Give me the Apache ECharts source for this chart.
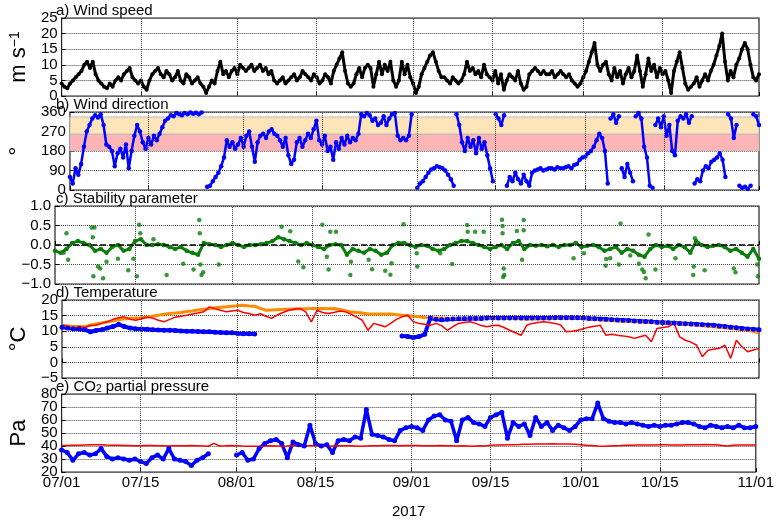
<!DOCTYPE html>
<html>
<head>
<meta charset="utf-8">
<script src="https://cdn.jsdelivr.net/npm/echarts@6/dist/echarts.min.js"></script>
<style>
html, body { margin: 0; padding: 0; background: #fff; }
#chart { width: 777px; height: 522px; }
</style>
</head>
<body>
<div id="chart"></div>
<script>
// x positions are days since 2017-07-01
const tickDays = [0, 14, 31, 45, 62, 76, 92, 106, 123]
const tickLabels = ['07/01', '07/15', '08/01', '08/15', '09/01', '09/15', '10/01', '10/15', '11/01']

// y tick values for each panel
const speedTicks = [0, 5, 10, 15, 20, 25]
const dirTicks = [0, 90, 180, 270, 360]
const stabTicks = [-1, -0.5, 0, 0.5, 1]
const tempTicks = [-5, 0, 5, 10, 15, 20]
const co2Ticks = [20, 30, 40, 50, 60, 70, 80]

// a) wind speed, m/s, every half day
const windSpeed = [
  4, 3, 2.5, 4, 5, 6, 7, 8, 10, 11, 9, 11, 7, 5, 4, 3, 2.5, 4, 3, 5,
  6, 5, 7, 8, 9, 6, 5, 4, 5, 3, 2, 5, 7, 8, 9, 7, 6, 8, 7, 5,
  6, 8, 5, 4, 7, 6, 4, 5, 6, 4, 3, 1, 3, 5, 4, 8, 11, 7, 8, 6,
  8, 9, 7, 10, 9, 8, 9, 10, 8, 9, 10, 8, 9, 7, 8, 5, 4, 5, 6, 4,
  5, 6, 7, 5, 6, 8, 7, 6, 5, 7, 6, 4, 5, 7, 6, 4, 8, 10, 12, 14,
  8, 4, 3, 4, 7, 9, 6, 9, 10, 9, 3, 7, 11, 7, 10, 8, 11, 5, 3, 5,
  11, 7, 10, 6, 4, 1, 3, 7, 9, 11, 13, 14, 11, 8, 6, 6, 5, 4, 6, 5,
  4, 5, 7, 11, 8, 9, 7, 8, 6, 10, 7, 6, 5, 8, 4, 7, 2, 5, 7, 6,
  5, 8, 4, 2, 3, 7, 8, 9, 8, 7, 8, 7, 7, 8, 6, 7, 8, 7, 6, 7,
  5, 4, 3, 4, 6, 8, 11, 14, 17, 10, 8, 10, 11, 7, 5, 9, 6, 8, 4, 7,
  9, 6, 8, 13, 8, 3, 7, 12, 8, 10, 6, 9, 7, 8, 5, 1, 8, 11, 14, 9,
  4, 2, 3, 4, 6, 3, 5, 7, 5, 8, 10, 13, 16, 20, 11, 5, 8, 6, 10, 12,
  15, 17, 15, 10, 6, 5, 7
]

// b) wind direction, degrees, every half day
const windDir = [
  60, 30, 100, 70, 120, 200, 270, 300, 330, 345, 335, 350, 300, 210, 200, 180, 110, 170, 190, 150,
  210, 100, 180, 250, 300, 270, 220, 190, 240, 210, 250, 230, 260, 290, 320, 330, 345, 340, 355, 350,
  345, 355, 350, 358, 352, 356, 350, 358, null, 15, 20, 40, 60, 80, 110, 150, 230, 200, 220, 190,
  210, 240, 200, 250, 270, 200, 130, 220, 250, 260, 240, 270, 280, 260, 250, 230, 200, 240, 160, 120,
  140, 220, 240, 200, 230, 260, 240, 280, 320, 230, 210, 250, 180, 200, 140, 220, 190, 240, 210, 250,
  220, 240, 230, 260, 350, 340, 355, 345, 320, 330, 300, 310, 340, 300, 330, 350, 355, 250, 230, 240,
  230, 250, 350, null, 10, 30, 40, 60, 80, 95, 100, 110, 105, 100, 90, 70, 50, 20, 350, 300,
  220, 180, 240, 200, 230, 170, 240, 190, 220, 160, 100, 40, 350, 330, 300, 345, 20, 60, 40, 80,
  50, 30, 70, 40, 20, 80, 90, 95, 100, 90, 95, 100, 100, 95, 105, 100, 100, 105, 110, 100,
  115, 120, 140, 150, 155, 170, 180, 200, 230, 260, 240, 180, 30, 330, 350, 310, 340, 100, 60, 120,
  80, 40, 340, 355, 330, 200, 150, 20, 10, 300, 330, 290, 340, 250, 300, 180, 160, 320, 340, 330,
  350, 310, 340, 30, 50, 40, 90, 110, 100, 130, 140, 150, 170, 140, 60, 350, 330, 240, 300, 20,
  10, 15, 5, 20, 350, 340, 300
]
const dirBands = [[180, 258], [258, 337]]

// c) stability parameter, daily, plus scattered outliers
const stability = [
  -0.15, -0.2, -0.1, 0.05, 0.1, 0.05, 0.0, -0.15, -0.1, -0.2,
  -0.05, 0.0, -0.15, -0.1, 0.1, 0.15, 0.0, 0.0, 0.02, 0.0,
  -0.05, -0.1, -0.05, -0.15, -0.2, -0.25, 0.05, 0.02, 0.0, -0.05,
  0.0, 0.05, 0.0, -0.05, 0.0, 0.0, 0.02, 0.05, 0.1, 0.2,
  0.15, 0.1, 0.05, 0.0, 0.05, 0.0, -0.05, -0.1, 0.0, 0.02,
  0.0, -0.25, -0.1, -0.15, -0.2, -0.1, -0.15, -0.25, -0.2, 0.0,
  0.05, 0.05, 0.0, -0.05, 0.0, -0.02, -0.1, -0.15, -0.1, 0.0,
  0.05, 0.1, 0.1, 0.05, 0.0, -0.05, -0.1, -0.05, 0.0, -0.1,
  0.05, 0.1, -0.1, 0.0, -0.02, 0.0, -0.03, 0.0, -0.05, 0.0,
  0.0, 0.05, -0.05, -0.02, 0.0, -0.05, -0.15, -0.1, -0.05, -0.2,
  -0.1, -0.15, -0.25, -0.3, -0.1, 0.0, -0.05, -0.02, -0.1, 0.0,
  -0.05, -0.2, 0.1, 0.0, -0.05, -0.02, 0.0, -0.05, -0.15, -0.1,
  -0.2, -0.3, -0.1, -0.35
]
const stabOutDays = [2, 2.3, 1.5, 6.4, 6.9, 6.6, 6.7, 7.9, 8.4, 7.5, 9, 11, 12.8, 13.7, 14.3, 14.7, 14.9, 17.2, 19.5, 22.4,
  24.2, 25.2, 25.3, 25.4, 25.6, 25.9, 28.6, 39.6, 41.1, 42.5, 43.4, 46.7, 47.5, 47.8, 48.1, 49.1, 51.6, 51.7, 54.8, 55.4,
  57.7, 58.6, 58.8, 60.9, 63.2, 63.3, 67.3, 69.4, 72, 72.1, 73.4, 74.9, 78.1, 78.2, 78.2, 78.4, 78.5, 78.3, 80.7, 81.9,
  81.9, 81.6, 90.6, 92.4, 96.2, 96.3, 97, 98.5, 98.8, 100.5, 102, 102.6, 102.9, 103.2, 103.7, 104.9, 108.4, 111.5, 111.6, 111.8,
  113.5, 118.6, 118.9, 122.8, 122.7]
const stabOutVals = [0.3, -0.38, -0.2, 0.45, 0.45, 0.2, -0.8, -0.6, -0.85, -0.55, -0.43, -0.35, -0.65, -0.35, -0.8, 0.52, 0.3, 0.15, -0.77, -0.48,
  -0.63, 0.64, 0.3, -0.5, -0.77, -0.7, -0.5, 0.47, 0.35, -0.42, -0.57, 0.52, -0.3, -0.63, 0.34, 0.34, -0.77, -0.43, -0.38, -0.62,
  -0.66, -0.76, -0.47, 0.53, -0.21, -0.55, -0.21, -0.49, 0.51, 0.34, 0.34, 0.34, 0.65, 0.49, 0.3, -0.6, -0.77, -0.82, 0.36, 0.64,
  0.38, -0.38, -0.34, -0.21, -0.53, -0.36, -0.34, -0.5, 0.55, -0.27, -0.48, -0.63, -0.69, -0.85, 0.27, -0.63, -0.34, -0.77, -0.55, 0.17,
  -0.65, -0.6, -0.7, -0.8, -0.5]

// d) temperature, degC, daily
const tempBlue = [
  11.3, 11, 10.8, 10.7, 10.5, 9.8, 10.2, 10.5, 11, 11.5,
  12.2, 11.5, 11, 10.8, 10.7, 10.6, 10.5, 10.4, 10.3, 10.3,
  10.2, 10.1, 10, 10, 9.9, 9.8, 9.8, 9.7, 9.6, 9.5,
  9.5, 9.3, 9.2, 9.2, 9.1, null, null, null, null, null,
  null, null, null, null, null, null, null, null, null, null,
  null, null, null, null, null, null, null, null, null, null,
  8.5, 8.3, 8, 8.3, 9, 14.2, 13.8, 13.7, 13.8, 13.9,
  14, 14, 14.1, 14.1, 14.1, 14.2, 14.2, 14.2, 14.2, 14.2,
  14.2, 14.2, 14.2, 14.2, 14.2, 14.2, 14.2, 14.3, 14.3, 14.3,
  14.3, 14.3, 14.2, 14.1, 14, 13.9, 13.8, 13.7, 13.6, 13.5,
  13.4, 13.3, 13.2, 13.1, 13, 12.9, 12.8, 12.7, 12.6, 12.5,
  12.4, 12.3, 12.2, 12.1, 12, 11.9, 11.7, 11.5, 11.3, 11.1,
  10.9, 10.7, 10.6, 10.5
]
const tempOrange = [
  11.9, 11.7, 11.5, 11.5, 11.4, 12, 12.3, 12.6, 13, 13.3,
  13.7, 14, 14.1, 14.2, 14.3, 14.6, 14.8, 15.1, 15.4, 15.7,
  15.8, 16, 16.3, 16.5, 16.8, 17, 17.2, 17.5, 17.7, 17.8,
  18, 18.2, 18.3, 18.1, 18, 17.3, 16.7, 16.8, 16.9, 17,
  17, 17.1, 17.2, 17.2, 17.3, 17.3, 17.3, 17.2, 17.3, 17,
  16.6, 16.2, 16, 15.8, 15.5, 15.5, 15.5, 15.5, 15.5, 15.3,
  15.1, 15, 14.8, 14.6, 14.4, 14.3, 14.2, 14.2, 14.1, 14.1,
  14.1, 14.1, 14.1, 14.1, 14.1, 14.1, 14.1, 14.1, 14.1, 14.1,
  14.1, 14, 13.8, 13.9, 14, 14, 14.1, 14.1, 14.1, 14.1,
  14.2, 14.2, 14.2, 14, 13.8, 13.6, 13.5, 13.4, 13.3, 13.2,
  13.1, 13.1, 13, 12.9, 12.8, 12.8, 12.7, 12.6, 12.5, 12.4,
  12.2, 12.1, 12, 11.8, 11.6, 11.4, 11.2, 11.1, 10.9, 10.7,
  10.5, 10.3, 10, 9.5
]
const tempRed = [
  12, 11.5, 10.9, 11.5, 11.2, 11.8, 11.9, 12.5, 13, 13.8,
  14.3, 14.6, 13.8, 13.5, 14, 14.5, 14.2, 13.5, 13, 13.8,
  14.5, 14.8, 15.1, 15.5, 15.8, 16.2, 17.8, 17.2, 16.7, 16.2,
  16.5, 16.7, 16, 15.7, 15.1, 15.6, 14.8, 14.1, 15.2, 16,
  16.7, 17, 17.3, 16.2, 13, 16.7, 16, 15.7, 16, 16.5,
  16.2, 15.5, 14.5, 13.5, 10.3, 12.5, 12, 11.4, 12.5, 13.8,
  14.6, 15.1, 13, 12.5, 12.2, 11.9, 12.5, 11.8, 10.3, 11.5,
  12.5, 12.8, 13, 12.5, 11.8, 11.4, 11.8, 11.9, 11.2, 10.3,
  9.5, 8.7, 11.9, 12.5, 12.8, 13, 12.8, 12.5, 12, 9.8,
  10, 10.3, 10.8, 11.3, 11.6, 11.9, 8.7, 9, 8.7, 8.5,
  8.2, 7.7, 8.2, 8.7, 6.6, 10.9, 11.2, 11.4, 12.5, 8.2,
  7.1, 6.5, 5.5, 1.8, 3.9, 4.2, 4.5, 5.5, 1.3, 7.1,
  5, 3.4, 4, 4.5
]

// e) CO2 partial pressure, Pa, daily
const co2Blue = [
  37, 35, 29, 34, 35, 33, 34, 38, 32, 30,
  31, 30, 29, 30, 28, 26.5, 31, 33, 30, 38,
  30, 29, 28, 25, 29, 31, 34, null, null, null,
  null, 33, 35, 29, 30, 38, 42, 44, 45, 42,
  31, 43, 41, 40, 56, 42, 40, 41, 35, 44,
  45, 44, 47, 46, 68, 49, 48, 47, 45, 44,
  52, 54, 55, 54, 52, 60, 63, 64, 60, 59,
  44, 60, 62, 58, 57, 55, 62, 64, 66, 46,
  58, 55, 57, 48, 62, 55, 58, 52, 56, 54,
  52, 55, 60, 61, 61, 73, 61, 59, 58, 58,
  57, 58, 57, 56, 55, 56, 55, 56, 56, 57,
  58, 58, 57, 55, 54, 56, 55, 54, 55, 54,
  56, 54, 54, 55
]
const co2Red = [
  40.3, 40.4, 40.5, 40.6, 40.8, 41, 41, 40.9, 40.7, 40.6,
  40.5, 40.4, 40.3, 40.2, 40.2, 40.3, 40.3, 40.2, 40.1, 40.0,
  40.1, 40.2, 40.2, 40.3, 40.2, 40.0, 39.8, 42, 40.0, 40.1,
  40.3, 40.2, 40.0, 39.9, 39.8, 39.9, 40.0, 40.1, 40.0, 39.9,
  40.0, 40.2, 40.1, 40.0, 40.3, 40.1, 40.0, 39.9, 40.0, 40.1,
  40.2, 40.1, 40.0, 39.9, 40.0, 40.1, 40.2, 40.3, 40.4, 40.3,
  40.2, 40.3, 40.4, 40.3, 40.2, 40.1, 40.2, 40.3, 40.2, 40.1,
  40.0, 40.1, 40.0, 39.9, 40.2, 40.0, 40.5, 40.7, 40.8, 41.0,
  41.0, 41.1, 41.3, 41.4, 41.5, 41.6, 41.6, 41.7, 41.6, 41.5,
  41.5, 41.4, 41.0, 40.6, 40.3, 40.0, 39.8, 40.0, 40.2, 40.3,
  40.5, 40.6, 40.7, 40.8, 40.8, 40.7, 40.9, 41.0, 40.8, 40.7,
  40.8, 40.9, 41.0, 41.0, 41.1, 41.0, 40.9, 40.3, 40.0, 40.6,
  40.7, 40.8, 40.8, 40.7
]

const chart = echarts.init(document.getElementById('chart'))

const FONT = 'Liberation Sans'
const gridTops = [18, 112, 206, 300, 394]
const halfDay = (arr) => arr.map((v, i) => [i * 0.5, v == null ? '-' : v])
const daily = (arr) => arr.map((v, i) => [i, v == null ? '-' : v])

// break the direction trace where it wraps across 0/360
const wrapBreak = (arr) => {
  const out = []
  arr.forEach((v, i) => {
    const prev = arr[i - 1]
    if (v != null && prev != null && Math.abs(v - prev) > 180) out.push([i * 0.5 - 0.25, '-'])
    out.push([i * 0.5, v == null ? '-' : v])
  })
  return out
}

// vertical grid lines on the date ticks
const vGrid = tickDays.slice(1, -1).map(d => ({ xAxis: d }))
const gridMarks = (extra) => ({
  silent: true,
  symbol: 'none',
  label: { show: false },
  lineStyle: { type: 'dotted', color: '#444', width: 1 },
  data: vGrid.concat(extra || [])
})

const xAxisFor = (i) => ({
  type: 'value',
  gridIndex: i,
  min: 0,
  max: 123,
  axisLine: { show: false },
  axisTick: { show: true, inside: true, length: 4, customValues: tickDays, lineStyle: { color: '#000' } },
  axisLabel: {
    show: i === 4,
    customValues: tickDays,
    margin: 3,
    color: '#000',
    fontFamily: FONT,
    fontSize: 15,
    hideOverlap: false,
    formatter: (v) => tickLabels[tickDays.indexOf(v)]
  },
  splitLine: { show: false },
  name: i === 4 ? '2017' : '',
  nameLocation: 'middle',
  nameGap: 32,
  nameTextStyle: { color: '#000', fontFamily: FONT, fontSize: 15 }
})

// labelTicks lets a dense panel split its labels over two overlaid axes
const yAxisFor = (i, ticks, name, fmt, labelTicks) => ({
  type: 'value',
  gridIndex: i,
  position: 'left',
  offset: 0,
  min: ticks[0],
  max: ticks[ticks.length - 1],
  interval: ticks[1] - ticks[0],
  axisLine: { show: false },
  axisTick: { show: true, inside: true, length: 4, customValues: ticks, lineStyle: { color: '#000' } },
  axisLabel: {
    customValues: labelTicks || ticks,
    margin: 4, color: '#000', fontFamily: FONT, fontSize: 15,
    showMinLabel: true, showMaxLabel: true, hideOverlap: false,
    formatter: fmt || ((v) => String(v))
  },
  splitLine: { show: true, lineStyle: { type: 'dotted', color: '#444', width: 1 } },
  name: name,
  nameLocation: 'middle',
  nameRotate: 90,
  nameGap: 24,
  nameTextStyle: {
    color: '#000', fontFamily: FONT, fontSize: 22,
    rich: { sup: { fontSize: 14, fontFamily: FONT, verticalAlign: 'top', color: '#000' } }
  }
})

const titleFor = (text, top) => ({
  text: text,
  left: 56,
  top: top,
  padding: 0,
  textStyle: {
    color: '#000', fontFamily: FONT, fontSize: 15, fontWeight: 'normal',
    rich: { sub: { fontSize: 10, fontFamily: FONT, verticalAlign: 'bottom', color: '#000' } }
  }
})

const co2AltAxis = yAxisFor(4, co2Ticks, '', null, co2Ticks.filter((v, k) => k % 2 === 1))
co2AltAxis.splitLine = { show: false }
co2AltAxis.axisTick = { show: false }

const option = {
  animation: false,
  backgroundColor: '#fff',
  title: [
    titleFor('a) Wind speed', 3),
    titleFor('b) Wind direction', 97),
    titleFor('c) Stability parameter', 191),
    titleFor('d) Temperature', 285),
    titleFor('e) CO{sub|2} partial pressure', 379)
  ],
  grid: gridTops.map(t => ({
    left: 55, width: 704, top: t, height: 78,
    show: true, borderColor: '#222', borderWidth: 1.2, backgroundColor: 'transparent'
  })),
  xAxis: [0, 1, 2, 3, 4].map(xAxisFor),
  yAxis: [
    yAxisFor(0, speedTicks, 'm s{sup|−1}'),
    yAxisFor(1, dirTicks, '°'),
    yAxisFor(2, stabTicks, '', (v) => v.toFixed(1).replace('-', '−')),
    yAxisFor(3, tempTicks, '°C', (v) => String(v).replace('-', '−')),
    yAxisFor(4, co2Ticks, 'Pa', null, co2Ticks.filter((v, k) => k % 2 === 0)),
    co2AltAxis
  ],
  series: [
    {
      type: 'line', xAxisIndex: 0, yAxisIndex: 0,
      data: halfDay(windSpeed),
      symbol: 'circle', symbolSize: 4, showSymbol: true,
      itemStyle: { color: '#000' }, lineStyle: { color: '#000', width: 3 },
      markLine: gridMarks()
    },
    {
      type: 'line', xAxisIndex: 1, yAxisIndex: 1,
      data: wrapBreak(windDir),
      symbol: 'circle', symbolSize: 4.5, showSymbol: true,
      itemStyle: { color: '#0000ff' }, lineStyle: { color: '#0000ff', width: 2.5 },
      markLine: gridMarks(),
      markArea: {
        silent: true,
        data: [
          [{ yAxis: dirBands[0][0], itemStyle: { color: '#ffb5b5', borderColor: '#bbb', borderWidth: 1 } }, { yAxis: dirBands[0][1] }],
          [{ yAxis: dirBands[1][0], itemStyle: { color: '#fde4b9', borderColor: '#bbb', borderWidth: 1 } }, { yAxis: dirBands[1][1] }]
        ]
      }
    },
    {
      type: 'line', xAxisIndex: 2, yAxisIndex: 2,
      data: daily(stability),
      symbol: 'circle', symbolSize: 4.5, showSymbol: true,
      itemStyle: { color: '#0a7d0a' }, lineStyle: { color: '#0a7d0a', width: 3 },
      markLine: gridMarks([{ yAxis: 0, lineStyle: { color: '#000', type: 'dashed', width: 1.5 } }])
    },
    {
      type: 'scatter', xAxisIndex: 2, yAxisIndex: 2,
      data: stabOutDays.map((d, i) => [d, stabOutVals[i]]),
      symbolSize: 4.5, itemStyle: { color: '#0a7d0a' }
    },
    {
      type: 'line', xAxisIndex: 3, yAxisIndex: 3,
      data: daily(tempBlue), connectNulls: false,
      symbol: 'circle', symbolSize: 5, showSymbol: true,
      itemStyle: { color: '#0000ff' }, lineStyle: { color: '#0000ff', width: 4 },
      markLine: gridMarks()
    },
    {
      type: 'line', xAxisIndex: 3, yAxisIndex: 3,
      data: daily(tempOrange), showSymbol: false,
      lineStyle: { color: '#ff8c00', width: 3 }
    },
    {
      type: 'line', xAxisIndex: 3, yAxisIndex: 3,
      data: daily(tempRed), showSymbol: false,
      lineStyle: { color: '#ff0000', width: 1.5 }
    },
    {
      type: 'line', xAxisIndex: 4, yAxisIndex: 4,
      data: daily(co2Blue), connectNulls: false,
      symbol: 'circle', symbolSize: 5, showSymbol: true,
      itemStyle: { color: '#0000ff' }, lineStyle: { color: '#0000ff', width: 3.5 },
      markLine: gridMarks()
    },
    {
      type: 'line', xAxisIndex: 4, yAxisIndex: 4,
      data: daily(co2Red), showSymbol: false,
      lineStyle: { color: '#ff0000', width: 1.5 }
    }
  ]
}

chart.setOption(option)
window.addEventListener('resize', () => chart.resize())
</script>
</body>
</html>
